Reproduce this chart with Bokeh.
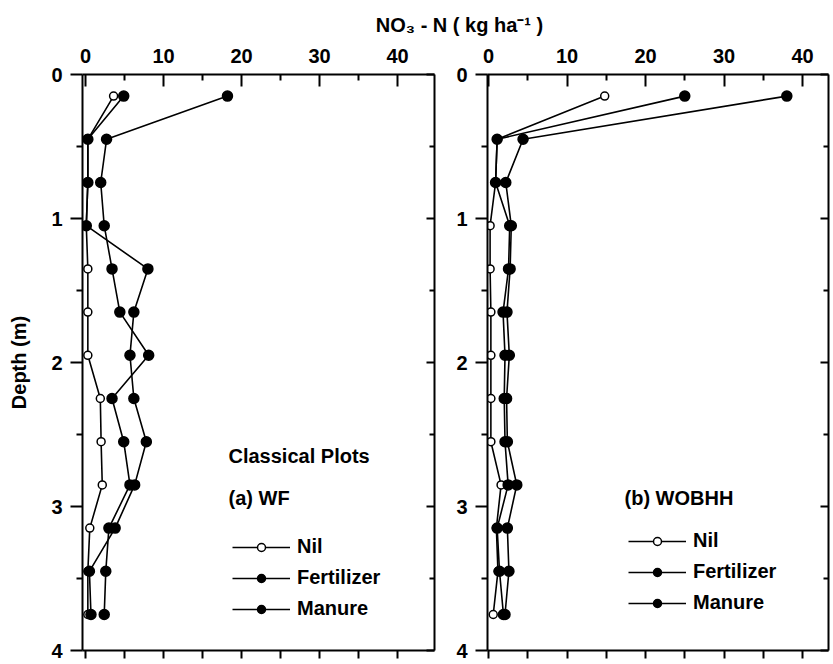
from bokeh.plotting import figure
from bokeh.layouts import column, row
from bokeh.models import Range1d, LinearAxis, FixedTicker, Label, Legend, LegendItem
from bokeh.embed import file_html
from bokeh.resources import INLINE

# ---------------- data ----------------
depth = [0.15, 0.45, 0.75, 1.05, 1.35, 1.65, 1.95, 2.25, 2.55, 2.85, 3.15, 3.45, 3.75]

# (a) WF - Classical plots
wf_nil = [3.6, 0.3, 0.3, 0.1, 0.3, 0.3, 0.3, 1.9, 2.0, 2.15, 0.55, 0.3, 0.3]
wf_fert = [4.9, 0.3, 0.3, 0.1, 8.0, 6.2, 5.7, 6.2, 7.8, 6.3, 3.8, 0.5, 0.7]
wf_man = [18.2, 2.7, 1.95, 2.4, 3.4, 4.4, 8.1, 3.4, 4.9, 5.7, 3.0, 2.6, 2.4]

# (b) WOBHH
wb_nil = [14.8, 1.1, 0.9, 0.2, 0.2, 0.3, 0.3, 0.3, 0.3, 1.6, 1.0, 1.2, 0.6]
wb_fert = [25.0, 1.1, 0.9, 2.7, 2.55, 1.85, 2.1, 2.0, 2.1, 2.5, 1.1, 1.4, 1.9]
wb_man = [38.0, 4.4, 2.2, 2.9, 2.75, 2.35, 2.65, 2.3, 2.4, 3.6, 2.4, 2.6, 2.1]

x_major = [0, 10, 20, 30, 40]
x_minor = [5, 15, 25, 35]
x_bottom = [0, 5, 10, 15, 20, 25, 30, 35, 40]
y_major = [0, 1, 2, 3, 4]
y_minor = [0.5, 1.5, 2.5, 3.5]
series_names = ["Nil", "Fertilizer", "Manure"]

FONT = "Liberation Sans"
FS = "20px"
FRAME_H = 576


def style_axis(ax):
    ax.axis_line_width = 2
    ax.axis_line_color = "black"
    ax.major_tick_line_width = 2
    ax.minor_tick_line_width = 2
    ax.major_tick_line_color = "black"
    ax.minor_tick_line_color = "black"
    ax.major_label_text_font = FONT
    ax.major_label_text_font_style = "bold"
    ax.major_label_text_font_size = FS
    ax.major_label_text_color = "black"


def hide_labels(ax, ticks):
    ax.major_label_overrides = {t: "" for t in ticks}
    ax.major_label_text_font_size = "0px"
    ax.major_label_standoff = 0


def make_panel(x_start, x_end, frame_w, border_left, border_right,
               nil, fert, man, ylabel, legend_loc, texts):
    p = figure(frame_width=frame_w, frame_height=FRAME_H,
               x_range=Range1d(x_start, x_end), y_range=Range1d(4, 0),
               x_axis_location="above", y_axis_location="left",
               output_backend="svg", toolbar_location=None,
               min_border_left=border_left, min_border_right=border_right,
               min_border_top=38, min_border_bottom=12)
    p.outline_line_color = None
    p.grid.visible = False

    top = p.xaxis[0]
    style_axis(top)
    top.ticker = FixedTicker(ticks=x_major, minor_ticks=x_minor)
    top.major_tick_in = 12
    top.major_tick_out = 0
    top.minor_tick_in = 6
    top.minor_tick_out = 0
    top.major_label_standoff = 12

    left = p.yaxis[0]
    style_axis(left)
    left.ticker = FixedTicker(ticks=y_major, minor_ticks=y_minor)
    left.major_tick_out = 12
    left.major_tick_in = 0
    left.minor_tick_out = 6
    left.minor_tick_in = 0
    left.major_label_standoff = 8
    if ylabel:
        left.axis_label = ylabel
        left.axis_label_text_font = FONT
        left.axis_label_text_font_style = "bold"
        left.axis_label_text_font_size = FS
        left.axis_label_text_color = "black"
        left.axis_label_standoff = 18

    bottom = LinearAxis(ticker=FixedTicker(ticks=x_bottom, minor_ticks=[]))
    style_axis(bottom)
    bottom.major_tick_out = 8
    bottom.major_tick_in = 0
    hide_labels(bottom, x_bottom)
    p.add_layout(bottom, "below")

    right = LinearAxis(ticker=FixedTicker(ticks=y_major, minor_ticks=y_minor))
    style_axis(right)
    right.major_tick_in = 8
    right.major_tick_out = 0
    right.minor_tick_in = 5
    right.minor_tick_out = 0
    hide_labels(right, y_major)
    p.add_layout(right, "right")

    items = []
    for name, vals, fill, size in zip(series_names, [nil, fert, man],
                                      ["white", "black", "black"], [8, 10, 10]):
        ln = p.line(vals, depth, line_color="black", line_width=1.6)
        sc = p.scatter(vals, depth, marker="circle", size=size,
                       fill_color=fill, line_color="black", line_width=1.5)
        items.append(LegendItem(label=name, renderers=[ln, sc]))

    leg = Legend(items=items, location=legend_loc, orientation="vertical",
                 glyph_width=58, glyph_height=20, label_height=20,
                 spacing=8, padding=0, margin=0, label_standoff=7,
                 border_line_color=None, background_fill_alpha=0,
                 label_text_font=FONT, label_text_font_style="bold",
                 label_text_font_size=FS, label_text_color="black")
    p.add_layout(leg)

    for txt, sx, sy in texts:
        p.add_layout(Label(x=sx, y=sy, x_units="screen", y_units="screen",
                           text=txt, text_font=FONT, text_font_style="bold",
                           text_font_size=FS, text_baseline="middle",
                           text_align="left", text_color="black"))
    return p


p1 = make_panel(-0.385, -0.385 + 352 / 7.8, 352, 82, 10,
                wf_nil, wf_fert, wf_man, "Depth (m)", (150, 30),
                [("Classical Plots", 146, 195), ("(a) WF", 146, 153)])
p2 = make_panel(-0.13, -0.13 + 341 / 7.85, 341, 43, 3,
                wb_nil, wb_fert, wb_man, None, (141, 36),
                [("(b) WOBHH", 137, 153)])

header = figure(width=831, height=36, x_range=Range1d(0, 831), y_range=Range1d(0, 36),
                x_axis_type=None, y_axis_type=None, output_backend="svg",
                toolbar_location=None, min_border=0)
header.outline_line_color = None
header.grid.visible = False
header.add_layout(Label(x=459, y=12, text="NO\u2083 - N ( kg ha\u207b\u00b9 )",
                        text_font=FONT, text_font_style="bold", text_font_size=FS,
                        text_align="center", text_baseline="middle", text_color="black"))

layout = column(header, row(p1, p2, spacing=0), spacing=0)

open("out.html", "w").write(file_html(layout, INLINE))
